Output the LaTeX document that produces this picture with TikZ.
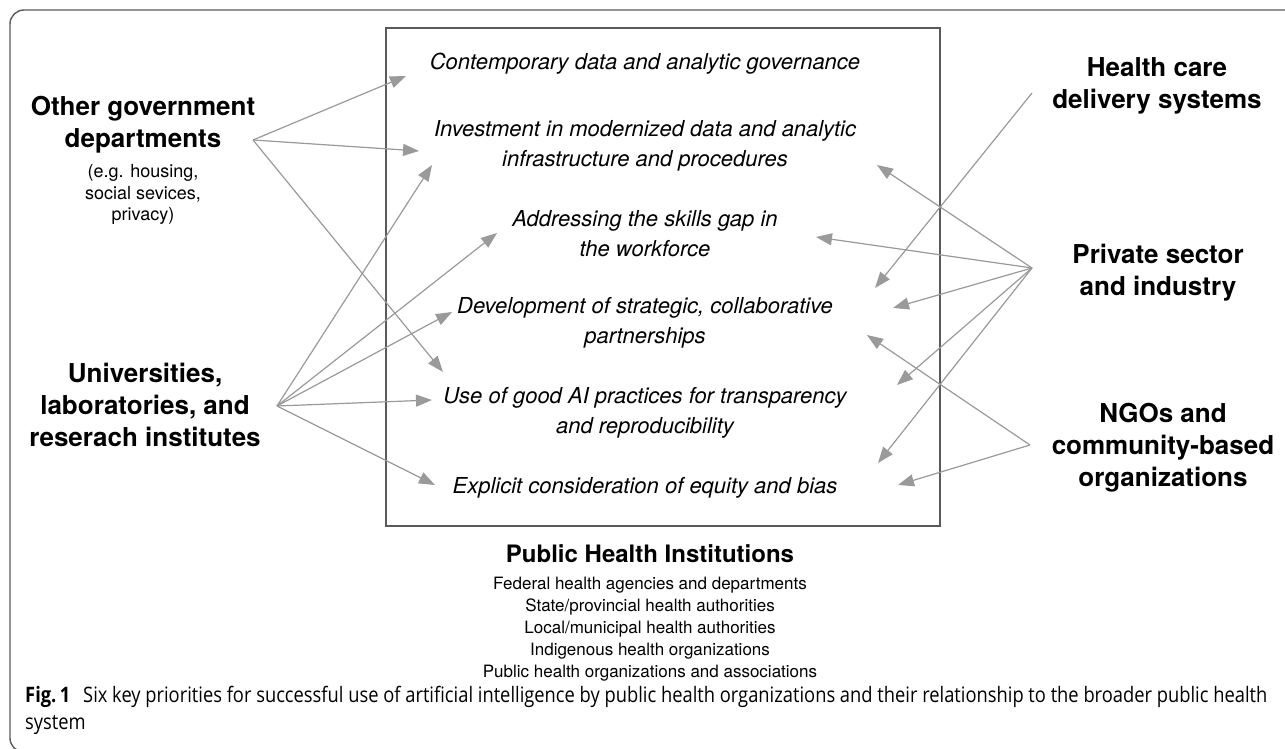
\documentclass[tikz,border=0pt]{standalone}
\usepackage{fontspec}
\setmainfont{TeX Gyre Heros}
\newfontfamily\capfont[FakeStretch=0.86]{Open Sans}
\usetikzlibrary{arrows.meta,positioning}

\definecolor{linkgray}{HTML}{9A9A9A}
\definecolor{framegray}{HTML}{5A5A5A}

\tikzset{
  priority/.style={align=center,inner sep=0pt,
                   font=\fontsize{22}{30}\selectfont\itshape},
  actor/.style={align=center,inner sep=0pt,
                font=\fontsize{26}{32}\selectfont\bfseries},
  actorsub/.style={align=center,inner sep=0pt,
                   font=\fontsize{18}{21.5}\selectfont},
  link/.style={-{Triangle[length=16pt,width=12pt]},draw=linkgray,fill=linkgray,
               line width=1.2pt},
}

\begin{document}
\begin{tikzpicture}[x=1pt,y=-1pt]
  \useasboundingbox (0,0) rectangle (1285,749);

  % outer frame
  \draw[framegray,line width=1.4pt,rounded corners=14pt]
    (1300,10) -- (10,10) -- (10,752) -- (40,752);

  % public health institutions and the six priorities
  \node[draw=framegray,line width=1.5pt,minimum width=554pt,minimum height=498pt]
    (box) at (663,277) {};
  \node[priority] (p1) at (645,64)  {Contemporary data and analytic governance};
  \node[priority] (p2) at (645,146) {Investment in modernized data and analytic\\infrastructure and procedures};
  \node[priority] (p3) at (645,234) {Addressing the skills gap in\\the workforce};
  \node[priority] (p4) at (645,323) {Development of strategic, collaborative\\partnerships};
  \node[priority] (p5) at (645,413) {Use of good AI practices for transparency\\and reproducibility};
  \node[priority] (p6) at (645,488) {Explicit consideration of equity and bias};

  \node[font=\fontsize{24}{28}\selectfont\bfseries,inner sep=0pt]
    (phi) at (650,554) {Public Health Institutions};
  \node[font=\fontsize{17}{22}\selectfont,align=center,inner sep=0pt]
    (philist) [below=14pt of phi] {Federal health agencies and departments\\
      State/provincial health authorities\\Local/municipal health authorities\\
      Indigenous health organizations\\Public health organizations and associations};

  % partners
  \node[actor] (gov) at (143,125) {Other government\\departments};
  \node[actorsub] (govsub) [below=11pt of gov] {(e.g. housing,\\social sevices,\\privacy)};
  \node[actor] (uni) at (145,405) {Universities,\\laboratories, and\\reserach institutes};
  \node[actor] (hcd) at (1157,86)  {Health care\\delivery systems};
  \node[actor] (psi) at (1158,273) {Private sector\\and industry};
  \node[actor] (ngo) at (1163,448) {NGOs and\\community-based\\organizations};

  % where the links leave the partners
  \coordinate (govout) at (253,140);
  \coordinate (uniout) at (277,406);
  \coordinate (hcdout) at (1032,93);
  \coordinate (psiout) at (1032,268);
  \coordinate (ngoout) at (1030,445);

  % where the links reach the priorities
  \coordinate (g1) at (406,76);
  \coordinate (g2) at (419,151);
  \coordinate (g5) at (443,372);
  \coordinate (u2) at (432,165);
  \coordinate (u3) at (497,233);
  \coordinate (u4) at (452,312);
  \coordinate (u5) at (432,400);
  \coordinate (u6) at (435,485);
  \coordinate (h4) at (875,288);
  \coordinate (s2) at (877,165);
  \coordinate (s3) at (816,237);
  \coordinate (s4) at (893,308);
  \coordinate (s5) at (897,385);
  \coordinate (s6) at (878,463);
  \coordinate (n4) at (867,335);
  \coordinate (n6) at (898,485);

  \foreach \from/\to in {govout/g1,govout/g2,govout/g5,
                         uniout/u2,uniout/u3,uniout/u4,uniout/u5,uniout/u6,
                         hcdout/h4,
                         psiout/s2,psiout/s3,psiout/s4,psiout/s5,psiout/s6,
                         ngoout/n4,ngoout/n6}
    \draw[link] (\from) -- (\to);

  % caption
  \node[anchor=north west,align=left,inner sep=0pt,
        font=\capfont\fontsize{21.3}{27}\selectfont] (caption) at (25,686)
    {\textbf{Fig.\,1}\hspace{0.6em}Six key priorities for successful use of artificial intelligence by public health organizations and their relationship to the broader public health\\system};
\end{tikzpicture}
\end{document}
